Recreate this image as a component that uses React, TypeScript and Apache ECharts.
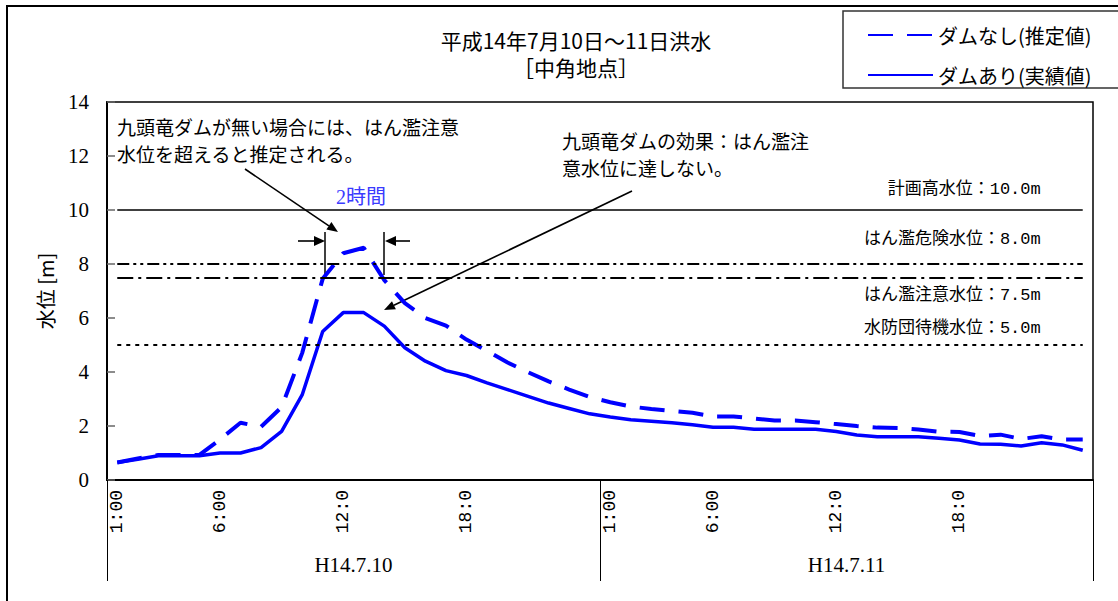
import { useEffect, useRef } from 'react';
import * as echarts from 'echarts';

// ---- data ----
const days = ['H14.7.10', 'H14.7.11'];
const hourNames = [
  '1:00', '2:00', '3:00', '4:00', '5:00', '6:00', '7:00', '8:00', '9:00', '10:00', '11:00', '12:00',
  '13:00', '14:00', '15:00', '16:00', '17:00', '18:00', '19:00', '20:00', '21:00', '22:00', '23:00', '24:00',
];
const categories = days.flatMap((d) => hourNames.map((h) => `${d} ${h}`));
const tickHourIndex = [0, 5, 11, 17];
const tickTexts = ['1:00', '6:00', '12:0', '18:0'];

const seriesNames = ['ダムなし(推定値)', 'ダムあり(実績値)'];

// ダムなし(推定値)
const withoutDam = [
  0.65, 0.8, 0.93, 0.93, 0.93, 1.5, 2.12, 1.97, 2.7, 4.7, 7.45, 8.4,
  8.6, 7.4, 6.55, 6.0, 5.72, 5.2, 4.78, 4.35, 3.99, 3.65, 3.35, 3.07,
  2.88, 2.72, 2.63, 2.56, 2.49, 2.35, 2.35, 2.28, 2.2, 2.2, 2.14, 2.07,
  2.0, 1.94, 1.93, 1.87, 1.79, 1.78, 1.63, 1.68, 1.52, 1.62, 1.5, 1.5,
];
// ダムあり(実績値)
const withDam = [
  0.65, 0.77, 0.9, 0.9, 0.9, 1.0, 1.0, 1.2, 1.8, 3.15, 5.5, 6.2,
  6.2, 5.7, 4.9, 4.4, 4.05, 3.87, 3.6, 3.35, 3.1, 2.85, 2.65, 2.45,
  2.33, 2.23, 2.18, 2.12, 2.05, 1.95, 1.95, 1.88, 1.88, 1.88, 1.88, 1.8,
  1.67, 1.6, 1.6, 1.6, 1.55, 1.48, 1.33, 1.32, 1.26, 1.38, 1.3, 1.1,
];

const levelValues = [10.0, 8.0, 7.5, 5.0];
const levelNames = ['計画高水位：10.0m', 'はん濫危険水位：8.0m', 'はん濫注意水位：7.5m', '水防団待機水位：5.0m'];

const titleText = '平成14年7月10日～11日洪水';
const subtitleText = '［中角地点］';
const note1Lines = ['九頭竜ダムが無い場合には、はん濫注意', '水位を超えると推定される。'];
const note2Lines = ['九頭竜ダムの効果：はん濫注', '意水位に達しない。'];
const durationText = '2時間';

// ---- styles ----
const JP = '"Noto Sans CJK JP", sans-serif';
const SERIF = '"Liberation Serif", "Noto Sans CJK JP", serif';
const MONO = '"Liberation Mono", "Noto Sans CJK JP", monospace';
const BLUE = '#0000ff';

const levelLineTypes: any[] = ['solid', [12, 4, 3, 4, 3, 4], [16, 5, 3, 5], [4, 5]];
const levelWidths = [1.5, 2, 2, 2];
const levelPos = ['insideEndTop', 'insideEndTop', 'insideEndBottom', 'insideEndTop'];
const levelDy = [12, 16, 9, 8];

function arrow(x1: number, y1: number, x2: number, y2: number, head = 11, w = 4.5) {
  const dx = x2 - x1;
  const dy = y2 - y1;
  const L = Math.hypot(dx, dy);
  const ux = dx / L;
  const uy = dy / L;
  const bx = x2 - ux * head;
  const by = y2 - uy * head;
  return [
    { type: 'line', silent: true, shape: { x1, y1, x2: bx, y2: by }, style: { stroke: '#000', lineWidth: 1.6 } },
    {
      type: 'polygon',
      silent: true,
      shape: { points: [[x2, y2], [bx - uy * w, by + ux * w], [bx + uy * w, by - ux * w]] },
      style: { fill: '#000' },
    },
  ];
}

function textLines(lines: string[], x: number, yCenter: number, gap: number) {
  return lines.map((t, k) => ({
    type: 'text',
    silent: true,
    x,
    y: yCenter + k * gap,
    style: { text: t, fontSize: 19, fontFamily: JP, fill: '#000', textVerticalAlign: 'middle' },
  }));
}

export default function App() {
  const ref = useRef<HTMLDivElement>(null);
  useEffect(() => {
    const chart = echarts.init(ref.current!, null, { renderer: 'svg' });
    const markData = levelValues.map((v, k) => [
      {
        coord: [0, v],
        lineStyle: { color: '#000', width: levelWidths[k], type: levelLineTypes[k] },
        label: {
          show: true,
          formatter: levelNames[k],
          position: levelPos[k],
          distance: [42, levelDy[k]],
          fontSize: 17,
          fontFamily: MONO,
          color: '#000',
        },
      },
      { coord: [categories.length - 1, v] },
    ]);

    chart.setOption({
      animation: false,
      backgroundColor: '#fff',
      title: {
        text: titleText,
        subtext: subtitleText,
        left: 576,
        textAlign: 'center',
        top: 29,
        padding: 0,
        itemGap: 7,
        textStyle: { fontSize: 21, fontWeight: 'normal', fontFamily: JP, color: '#000' },
        subtextStyle: { fontSize: 21, fontFamily: JP, color: '#000' },
      },
      legend: {
        data: seriesNames,
        orient: 'vertical',
        left: 867,
        top: 25,
        padding: 0,
        itemWidth: 65,
        itemHeight: 18,
        itemGap: 20,
        itemStyle: { opacity: 0 },
        textStyle: { fontSize: 20, fontFamily: JP, color: '#000' },
      },
      grid: {
        left: 107,
        right: 25,
        top: 102,
        bottom: 121,
        show: true,
        borderColor: '#000',
        borderWidth: 1.5,
        backgroundColor: 'transparent',
      },
      xAxis: [
        {
          type: 'category',
          data: categories,
          boundaryGap: true,
          position: 'bottom',
          offset: 0,
          axisLine: { lineStyle: { color: '#000', width: 2 } },
          axisTick: { show: false },
          splitLine: { show: false },
          axisLabel: {
            interval: (i: number) => tickHourIndex.includes(i % 24),
            formatter: (_v: string, i: number) => tickTexts[tickHourIndex.indexOf(i % 24)] ?? '',
            rotate: 90,
            margin: 10,
            fontSize: 18,
            fontFamily: MONO,
            color: '#000',
          },
        },
        {
          type: 'category',
          data: days,
          boundaryGap: true,
          position: 'bottom',
          offset: 0,
          axisLine: { show: false },
          axisTick: { show: true, length: 101, interval: 0, lineStyle: { color: '#000', width: 1 } },
          splitLine: { show: false },
          axisLabel: { interval: 0, margin: 74, fontSize: 21, fontFamily: SERIF, color: '#000' },
        },
      ],
      yAxis: {
        type: 'value',
        min: 0,
        max: 14,
        interval: 2,
        name: '水位 [m]',
        nameLocation: 'middle',
        nameGap: 52,
        nameTextStyle: { fontSize: 20, fontFamily: JP, color: '#000' },
        axisLine: { show: true, lineStyle: { color: '#000', width: 2 } },
        axisTick: { show: true, inside: true, length: 8, lineStyle: { color: '#666', width: 1.5 } },
        splitLine: { show: false },
        axisLabel: { fontSize: 21, fontFamily: SERIF, color: '#000', margin: 18 },
      },
      series: [
        {
          name: seriesNames[0],
          type: 'line',
          data: withoutDam,
          symbol: 'none',
          color: BLUE,
          lineStyle: { color: BLUE, width: 4, type: [25, 14] },
          z: 3,
          markLine: {
            silent: true,
            symbol: ['none', 'none'],
            animation: false,
            data: markData,
          },
        },
        {
          name: seriesNames[1],
          type: 'line',
          data: withDam,
          symbol: 'none',
          color: BLUE,
          lineStyle: { color: BLUE, width: 3.5 },
          z: 3,
        },
      ],
      graphic: [
        { type: 'rect', silent: true, shape: { x: 7, y: 6, width: 1200, height: 700 }, style: { fill: 'none', stroke: '#000', lineWidth: 2 } },
        { type: 'rect', silent: true, shape: { x: 843, y: 11, width: 400, height: 77 }, style: { fill: 'none', stroke: '#333', lineWidth: 1.5 } },
        ...textLines(note1Lines, 117, 126.2, 27.6),
        ...textLines(note2Lines, 562, 140.2, 27.6),
        {
          type: 'text', silent: true, x: 361, y: 197,
          style: { text: durationText, fontSize: 20, fontFamily: SERIF, fill: '#3a3aff', textAlign: 'center', textVerticalAlign: 'middle' },
        },
        ...arrow(245, 169, 338, 232),
        ...arrow(632, 191, 384, 310),
        { type: 'line', silent: true, shape: { x1: 325, y1: 232, x2: 325, y2: 277 }, style: { stroke: '#000', lineWidth: 1.5 } },
        { type: 'line', silent: true, shape: { x1: 384, y1: 232, x2: 384, y2: 275 }, style: { stroke: '#000', lineWidth: 1.5 } },
        ...arrow(298, 241, 325, 241, 11, 5),
        ...arrow(410, 241, 385, 241, 11, 5),
      ],
    });
    return () => chart.dispose();
  }, []);
  return <div ref={ref} style={{ position: 'fixed', left: 0, top: 0, width: 1118, height: 601, background: '#fff' }} />;
}
